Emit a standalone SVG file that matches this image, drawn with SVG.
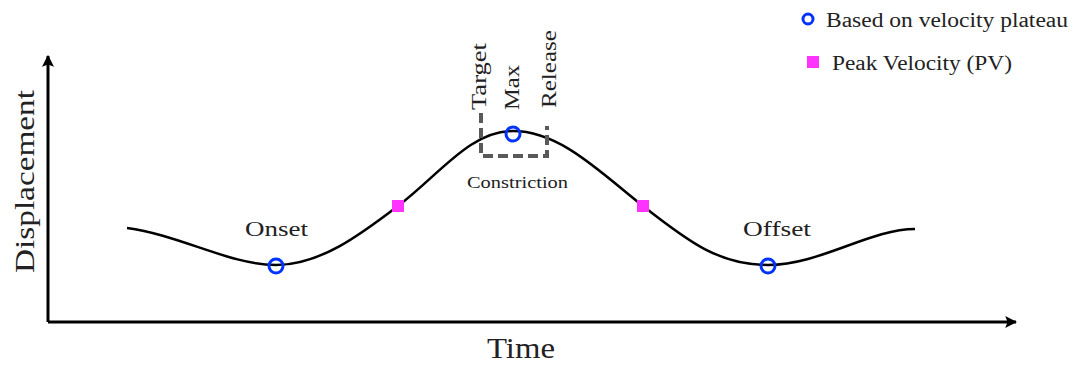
<svg xmlns="http://www.w3.org/2000/svg" width="1076" height="367" viewBox="0 0 1076 367">
<style>
.t{font-family:'Liberation Serif','Times New Roman',serif;fill:#222}
.pl{fill:none;stroke:#0033ff;stroke-width:3}
.pv{fill:#ff33ff}
.ax{fill:none;stroke:#000;stroke-width:3}
</style>
<defs>
<marker id="ah" viewBox="0 0 10 10" refX="9" refY="5" markerWidth="4" markerHeight="4" orient="auto" markerUnits="strokeWidth">
<path d="M0,0 L10,5 L0,10 L2,5 Z" fill="#000"/>
</marker>
</defs>
<g id="axes">
<path class="ax" d="M48,322 V56" marker-end="url(#ah)"/>
<path class="ax" d="M48,322 H1016" marker-end="url(#ah)"/>
<text class="t" transform="translate(34,273) rotate(-90)" font-size="28" textLength="183" lengthAdjust="spacingAndGlyphs">Displacement</text>
<text class="t" x="487" y="358" font-size="29" textLength="68" lengthAdjust="spacingAndGlyphs">Time</text>
</g>
<g id="connectors">
<path d="M127,228 C180,235 230,265 276,265 C320,265 360,235 398,206 C440,174 470,131 513,131 C560,131 600,172 643,206 C690,243 720,265 768,265 C820,265 870,229 915,229" fill="none" stroke="#000" stroke-width="2.5"/>
</g>
<g id="constriction">
<path d="M481,113 V156 H547 V126" fill="none" stroke="#595959" stroke-width="4" stroke-dasharray="10,5"/>
<text class="t" transform="translate(486,110) rotate(-90)" font-size="22" textLength="67" lengthAdjust="spacingAndGlyphs">Target</text>
<text class="t" transform="translate(519,110) rotate(-90)" font-size="22" textLength="45" lengthAdjust="spacingAndGlyphs">Max</text>
<text class="t" transform="translate(556,108) rotate(-90)" font-size="22" textLength="78" lengthAdjust="spacingAndGlyphs">Release</text>
<text class="t" x="467" y="188" font-size="16" textLength="101" lengthAdjust="spacingAndGlyphs">Constriction</text>
</g>
<g id="onset">
<circle class="pl" cx="276" cy="266" r="7"/>
<text class="t" x="245" y="236" font-size="22" textLength="63" lengthAdjust="spacingAndGlyphs">Onset</text>
</g>
<g id="max">
<circle class="pl" cx="513" cy="134" r="7"/>
</g>
<g id="pv1"><rect class="pv" x="392" y="200" width="12" height="12"/></g>
<g id="pv2"><rect class="pv" x="637" y="200" width="12" height="12"/></g>
<g id="offset">
<circle class="pl" cx="768" cy="266" r="7"/>
<text class="t" x="743" y="236" font-size="22" textLength="68" lengthAdjust="spacingAndGlyphs">Offset</text>
</g>
<g id="legend">
<circle class="pl" cx="808" cy="19" r="5"/>
<text class="t" x="826" y="27" font-size="20" textLength="242" lengthAdjust="spacingAndGlyphs">Based on velocity plateau</text>
<rect class="pv" x="807" y="56" width="12" height="12"/>
<text class="t" x="832" y="70" font-size="20" textLength="180" lengthAdjust="spacingAndGlyphs">Peak Velocity (PV)</text>
</g>
</svg>
